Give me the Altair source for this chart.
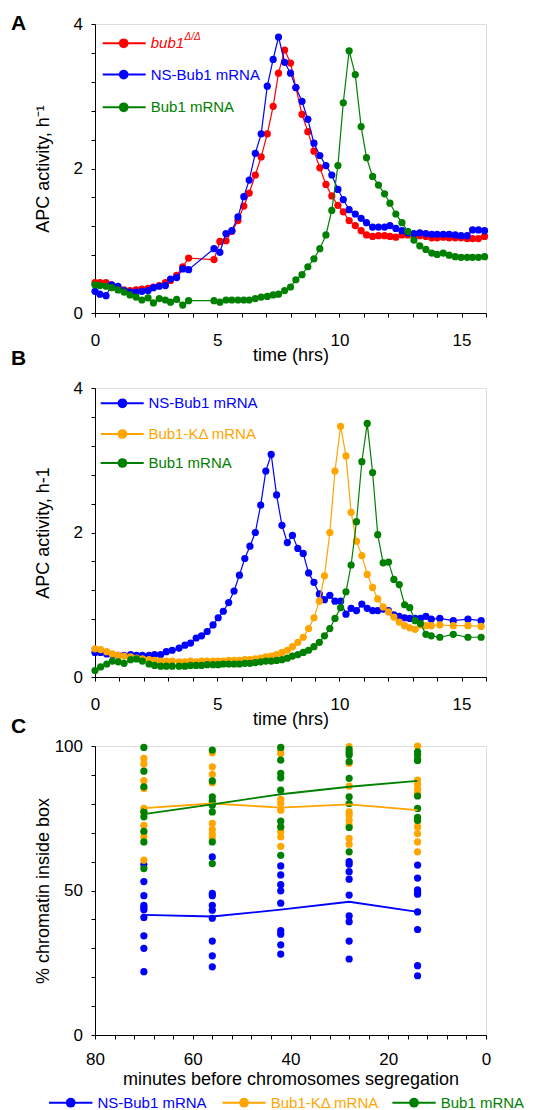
import altair as alt
import pandas as pd

FONT = "Liberation Sans"
RED, BLUE, GREEN, ORANGE = "#ff0000", "#0000ff", "#008000", "#ffa500"

# ---------------- Panel A : APC activity vs time ----------------
a_time = [0.00, 0.20, 0.45, 0.68, 0.94, 1.19, 1.43, 1.68, 1.92, 2.17,
          2.39, 2.63, 2.88, 3.09, 3.34, 3.59, 3.83, 4.87, 5.11, 5.36,
          5.60, 5.85, 6.09, 6.31, 6.56, 6.80, 7.05, 7.29, 7.51, 7.76,
          8.00, 8.22, 8.47, 8.71, 8.96, 9.20, 9.45, 9.69, 9.94, 10.16,
          10.40, 10.65, 10.89, 11.11, 11.36, 11.60, 11.85, 12.07, 12.31, 12.56,
          12.80, 13.05, 13.29, 13.54, 13.78, 14.00, 14.25, 14.49, 14.74, 14.98,
          15.23, 15.45, 15.69, 15.94]
a_bub1 = [0.42, 0.42, 0.42, 0.39, 0.35, 0.32, 0.31, 0.32, 0.33, 0.34,
          0.36, 0.38, 0.42, 0.45, 0.52, 0.64, 0.76, 0.74, 0.99, 1.00,
          1.13, 1.28, 1.48, 1.66, 1.91, 2.16, 2.48, 2.86, 3.32, 3.64,
          3.46, 3.12, 2.75, 2.51, 2.24, 2.01, 1.78, 1.62, 1.49, 1.40,
          1.28, 1.21, 1.14, 1.08, 1.06, 1.07, 1.07, 1.06, 1.05, 1.08,
          1.08, 1.08, 1.07, 1.06, 1.04, 1.04, 1.05, 1.04, 1.04, 1.04,
          1.03, 1.03, 1.03, 1.06]
a_ns = [0.30, 0.26, 0.24, 0.39, 0.37, 0.31, 0.29, 0.29, 0.30, 0.31,
        0.35, 0.37, 0.38, 0.47, 0.49, 0.61, 0.60, 0.89, 0.84, 1.10,
        1.14, 1.33, 1.61, 1.84, 2.21, 2.48, 3.14, 3.51, 3.82, 3.47,
        3.32, 3.12, 2.93, 2.68, 2.35, 2.18, 2.04, 1.91, 1.71, 1.57,
        1.43, 1.37, 1.31, 1.25, 1.19, 1.19, 1.19, 1.21, 1.17, 1.14,
        1.11, 1.10, 1.11, 1.10, 1.09, 1.09, 1.09, 1.09, 1.08, 1.07,
        1.07, 1.15, 1.15, 1.14]
a_wt = [0.39, 0.38, 0.37, 0.35, 0.32, 0.29, 0.25, 0.22, 0.18, 0.21,
        0.14, 0.20, 0.18, 0.15, 0.19, 0.11, 0.17, 0.17, 0.15, 0.18,
        0.18, 0.18, 0.18, 0.18, 0.20, 0.22, 0.23, 0.25, 0.26, 0.31,
        0.36, 0.46, 0.53, 0.64, 0.75, 0.89, 1.08, 1.42, 2.04, 2.91,
        3.63, 3.30, 2.58, 2.15, 1.89, 1.77, 1.65, 1.52, 1.37, 1.25,
        1.13, 1.01, 0.93, 0.88, 0.83, 0.81, 0.83, 0.80, 0.78, 0.77,
        0.77, 0.77, 0.77, 0.78]

# ---------------- Panel B : APC activity vs time ----------------
b_time = [0.00, 0.23, 0.48, 0.71, 0.95, 1.19, 1.46, 1.70, 1.94, 2.21,
          2.44, 2.69, 2.92, 3.16, 3.44, 3.68, 3.91, 4.14, 4.36, 4.59,
          4.83, 5.04, 5.25, 5.47, 5.69, 5.91, 6.13, 6.34, 6.56, 6.78,
          6.99, 7.21, 7.43, 7.65, 7.87, 8.08, 8.30, 8.52, 8.74, 8.96,
          9.18, 9.39, 9.61, 9.82, 10.05, 10.27, 10.48, 10.70, 10.92, 11.14,
          11.36, 11.57, 11.79, 12.01, 12.23, 12.45, 12.67, 12.88, 13.10, 13.32,
          13.54, 13.76, 14.11, 14.66, 15.26, 15.80]
b_ns = [0.34, 0.34, 0.32, 0.31, 0.30, 0.30, 0.31, 0.30, 0.30, 0.30,
        0.31, 0.31, 0.35, 0.37, 0.40, 0.44, 0.47, 0.54, 0.57, 0.63,
        0.72, 0.82, 0.91, 1.03, 1.19, 1.41, 1.64, 1.81, 2.00, 2.38,
        2.85, 3.08, 2.52, 2.10, 1.86, 1.96, 1.78, 1.71, 1.44, 1.31,
        1.15, 1.07, 1.13, 1.05, 1.05, 0.87, 0.95, 0.92, 1.01, 0.95,
        0.92, 0.92, 0.94, 0.92, 0.86, 0.84, 0.82, 0.81, 0.81, 0.81,
        0.84, 0.80, 0.81, 0.78, 0.80, 0.78]
b_kd = [0.39, 0.38, 0.35, 0.32, 0.30, 0.29, 0.28, 0.26, 0.25, 0.24,
        0.23, 0.22, 0.22, 0.22, 0.21, 0.21, 0.22, 0.21, 0.22, 0.22,
        0.22, 0.22, 0.22, 0.23, 0.23, 0.23, 0.24, 0.24, 0.25, 0.26,
        0.28, 0.29, 0.31, 0.34, 0.37, 0.42, 0.48, 0.55, 0.67, 0.82,
        1.05, 1.40, 2.00, 2.85, 3.47, 3.06, 2.28, 1.88, 1.68, 1.42,
        1.24, 1.08, 0.97, 0.90, 0.83, 0.76, 0.71, 0.68, 0.66, 0.72,
        0.71, 0.71, 0.72, 0.71, 0.71, 0.70]
b_wt = [0.09, 0.14, 0.18, 0.22, 0.21, 0.19, 0.24, 0.25, 0.22, 0.18,
        0.16, 0.15, 0.15, 0.15, 0.15, 0.15, 0.16, 0.16, 0.16, 0.17,
        0.17, 0.17, 0.18, 0.18, 0.18, 0.18, 0.19, 0.19, 0.20, 0.21,
        0.22, 0.22, 0.23, 0.24, 0.26, 0.29, 0.31, 0.34, 0.37, 0.42,
        0.48, 0.57, 0.67, 0.81, 0.96, 1.18, 1.55, 2.15, 2.98, 3.51,
        2.83, 1.97, 1.58, 1.59, 1.35, 1.28, 1.00, 0.96, 0.78, 0.74,
        0.59, 0.57, 0.55, 0.59, 0.55, 0.55]

# ---------------- Panel C : % chromatin inside box ----------------
c_minutes = [70, 56, 42, 28, 14]
c_ns = [[59.0, 53.1, 48.2, 44.9, 44.1, 43.3, 40.7, 34.3, 30.0, 21.9],
        [61.6, 49.0, 48.2, 44.9, 43.2, 40.4, 32.5, 27.4, 23.6],
        [58.5, 55.4, 52.0, 49.9, 45.6, 36.1, 34.9, 31.2, 28.0],
        [60.0, 59.1, 56.5, 53.9, 48.4, 41.2, 39.2, 32.5, 26.3],
        [58.8, 54.3, 50.2, 49.3, 48.7, 42.6, 36.5, 24.0, 20.5]]
c_kd = [[95.7, 93.8, 88.0, 85.3, 78.4, 77.2, 72.5, 70.0, 68.5, 60.5],
        [97.7, 92.8, 90.2, 87.3, 80.1, 73.2, 71.1, 69.5, 68.0],
        [98.8, 97.4, 81.5, 80.1, 77.8, 72.0, 70.3, 68.6, 65.3],
        [99.8, 94.0, 86.1, 77.2, 76.1, 74.3, 72.6, 68.0, 66.0],
        [100.0, 88.2, 86.7, 85.0, 83.6, 74.0, 72.0, 69.7, 66.8, 63.4]]
c_wt = [[99.5, 91.3, 85.9, 77.2, 75.5, 70.5, 66.8, 57.6],
        [98.6, 87.9, 82.4, 81.0, 79.5, 77.2, 66.8, 59.3],
        [99.5, 95.1, 90.5, 89.0, 84.7, 74.0, 72.0, 62.2],
        [98.8, 97.7, 96.9, 94.6, 88.8, 82.4, 80.1, 71.8, 63.4],
        [98.0, 96.9, 95.4, 94.9, 82.7, 78.4, 75.3, 74.3]]
c_ns_mean = [41.6, 41.0, 43.4, 46.1, 42.6]
c_kd_mean = [78.5, 80.1, 78.7, 79.8, 77.8]
c_wt_mean = [76.4, 79.8, 83.3, 85.9, 87.9]

# ---------------- layout constants ----------------
W, H = 391, 289
LEFT, TOP = 86.3, 14.7          # outer extent left of / above panel A's frame
GAP_AB, GAP_BC = 74.3, 68.3     # distance between plot frames
one = pd.DataFrame({"k": [0]})
LABEL_FS, TITLE_FS = 17, 18


def y_axis(title, ticks, shown):
    return alt.Axis(
        values=ticks,
        labelExpr="indexof(%s, datum.value) >= 0 ? format(datum.value, 'd') : ''" % shown,
        labelOverlap=False, grid=False, tickSize=4, labelPadding=8.5,
        domainColor="black", tickColor="black", labelColor="black",
        labelFont=FONT, labelFontSize=LABEL_FS, title=title, titleFont=FONT,
        titleFontSize=TITLE_FS, titleFontWeight="normal", titleColor="black",
        titleX=-51.8, titleY=H / 2, titleBaseline="middle")


def x_axis(title, ticks, shown, label_pad, title_y):
    return alt.Axis(
        values=ticks,
        labelExpr="indexof(%s, datum.value) >= 0 ? format(datum.value, 'd') : ''" % shown,
        labelOverlap=False, labelFlush=False, grid=False, tickSize=4,
        labelPadding=label_pad, domainColor="black", tickColor="black",
        labelColor="black", labelFont=FONT, labelFontSize=LABEL_FS,
        title=title, titleFont=FONT, titleFontSize=TITLE_FS,
        titleFontWeight="normal", titleColor="black", titleY=title_y,
        titleBaseline="middle")


def series(t, v, color, x, y, size=52, sw=1.2):
    b = alt.Chart(pd.DataFrame({"t": t, "v": v}))
    return [b.mark_line(color=color, strokeWidth=sw).encode(x=x, y=y),
            b.mark_circle(color=color, size=size, opacity=1).encode(x=x, y=y)]


def legend_entry(yc, x0, x1, xd, xt, color, text, italic=False):
    b = alt.Chart(one)
    return [
        b.mark_rule(color=color, strokeWidth=2).encode(
            x=alt.value(x0), x2=alt.value(x1), y=alt.value(yc)),
        b.mark_circle(color=color, size=95, opacity=1).encode(
            x=alt.value(xd), y=alt.value(yc)),
        b.mark_text(text=text, align="left", baseline="middle", fontSize=15,
                    font=FONT, color=color,
                    fontStyle="italic" if italic else "normal").encode(
            x=alt.value(xt), y=alt.value(yc)),
    ]


def letter(ch, y):
    return alt.Chart(one).mark_text(
        text=ch, align="left", baseline="alphabetic", fontSize=21,
        fontWeight="bold", font=FONT, color="black").encode(
        x=alt.value(-84), y=alt.value(y))


def gap(h):
    # empty, frameless view used only to set the distance between panels
    return alt.Chart(one).mark_point(opacity=0).encode(
        x=alt.value(0), y=alt.value(0)).properties(
        width=W, height=h, view=alt.ViewBackground(stroke="transparent"))


hr_ticks = list(range(0, 17))
apc_ticks = [0, 0.4, 0.8, 1.2, 1.6, 2.0, 2.4, 2.8, 3.2, 3.6, 4.0]

# ---------- Panel A ----------
xA = alt.X("t:Q", scale=alt.Scale(domain=[0, 16], nice=False),
           axis=x_axis("time (hrs)", hr_ticks, "[0,5,10,15]", 15.5, 42))
yA = alt.Y("v:Q", scale=alt.Scale(domain=[0, 4], nice=False),
           axis=y_axis("APC activity, h\u207b\u00b9", apc_ticks, "[0,2,4]"))
legA = (legend_entry(19.3, 7.7, 50.7, 28.7, 55.7, RED, "bub1", italic=True)
        + [alt.Chart(one).mark_text(text="\u0394/\u0394", align="left",
                                    baseline="middle", fontSize=10, font=FONT,
                                    color=RED, fontStyle="italic").encode(
            x=alt.value(89.5), y=alt.value(12.5))]
        + legend_entry(50.6, 7.7, 50.7, 28.7, 55.7, BLUE, "NS-Bub1 mRNA")
        + legend_entry(83.3, 7.7, 50.7, 28.7, 55.7, GREEN, "Bub1 mRNA"))
corner = alt.Chart(one).mark_rule(opacity=0, strokeOpacity=0).encode(
    x=alt.value(-LEFT), y=alt.value(-TOP), y2=alt.value(0))
panelA = alt.layer(
    corner,
    *series(a_time, a_bub1, RED, xA, yA),
    *series(a_time, a_ns, BLUE, xA, yA),
    *series(a_time, a_wt, GREEN, xA, yA),
    *legA,
    letter("A", 5.6),
).properties(width=W, height=H)

# ---------- Panel B ----------
xB = alt.X("t:Q", scale=alt.Scale(domain=[0, 16], nice=False),
           axis=x_axis("time (hrs)", hr_ticks, "[0,5,10,15]", 15.5, 42))
yB = alt.Y("v:Q", scale=alt.Scale(domain=[0, 4], nice=False),
           axis=y_axis("APC activity, h-1", apc_ticks, "[0,2,4]"))
legB = (legend_entry(15.3, 5.7, 48.7, 27.4, 53.4, BLUE, "NS-Bub1 mRNA")
        + legend_entry(46.0, 5.7, 48.7, 27.4, 53.4, ORANGE, "Bub1-K\u0394 mRNA")
        + legend_entry(75.0, 5.7, 48.7, 27.4, 53.4, GREEN, "Bub1 mRNA"))
panelB = alt.layer(
    *series(b_time, b_ns, BLUE, xB, yB),
    *series(b_time, b_kd, ORANGE, xB, yB),
    *series(b_time, b_wt, GREEN, xB, yB),
    *legB,
    letter("B", -23.3),
).properties(width=W, height=H)

# ---------- Panel C ----------
xC = alt.X("t:Q", scale=alt.Scale(domain=[80, 0], nice=False),
           axis=x_axis("minutes before chromosomes segregation",
                       list(range(0, 81, 4)), "[0,20,40,60,80]", 12, 44))
yC = alt.Y("v:Q", scale=alt.Scale(domain=[0, 100], nice=False),
           axis=y_axis("% chromatin inside box", list(range(0, 101, 10)),
                       "[0,50,100]"))


def cloud(groups, color):
    rows = [{"t": m, "v": v} for m, vals in zip(c_minutes, groups) for v in vals]
    return alt.Chart(pd.DataFrame(rows)).mark_circle(
        color=color, size=52, opacity=1).encode(x=xC, y=yC)


def mean_line(means, color):
    return alt.Chart(pd.DataFrame({"t": c_minutes, "v": means})).mark_line(
        color=color, strokeWidth=1.8).encode(x=xC, y=yC)


legC = (legend_entry(356.7, -46.0, -2.6, -24.3, 2.4, BLUE, "NS-Bub1 mRNA")
        + legend_entry(356.7, 127.4, 170.7, 149.0, 175.7, ORANGE, "Bub1-K\u0394 mRNA")
        + legend_entry(356.7, 297.4, 340.7, 319.0, 345.7, GREEN, "Bub1 mRNA"))
panelC = alt.layer(
    cloud(c_ns, BLUE), cloud(c_kd, ORANGE), cloud(c_wt, GREEN),
    mean_line(c_ns_mean, BLUE), mean_line(c_kd_mean, ORANGE),
    mean_line(c_wt_mean, GREEN),
    *legC,
    letter("C", -13.3),
).properties(width=W, height=H)

chart = alt.vconcat(panelA, gap(GAP_AB), panelB, gap(GAP_BC), panelC,
                    spacing=0, bounds="flush", padding=0).configure_view(
    stroke="#444444", strokeWidth=1).configure(font=FONT)

chart.save("out.html", embed_options={"renderer": "svg", "actions": False})
